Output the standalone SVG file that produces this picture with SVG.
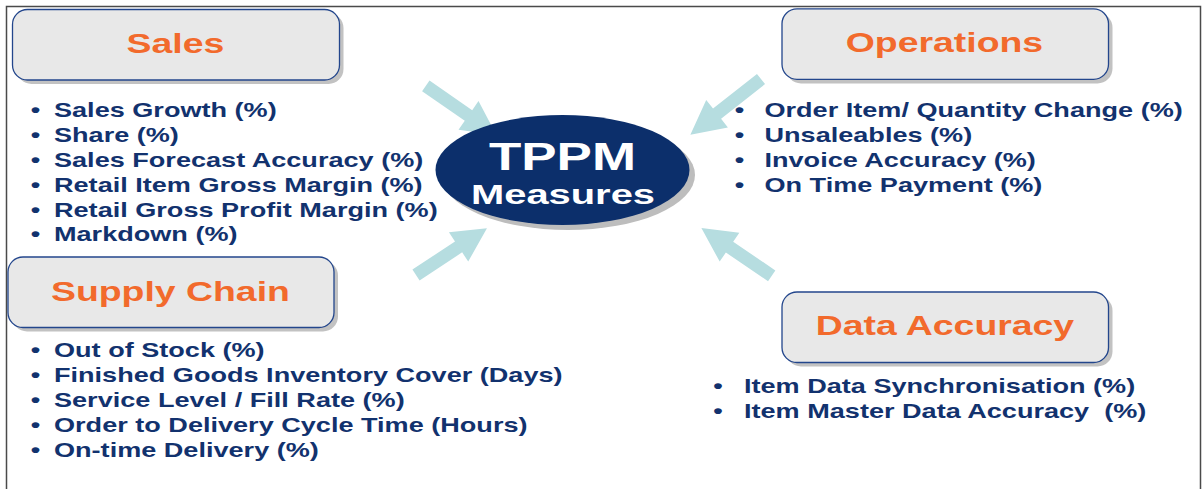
<svg xmlns="http://www.w3.org/2000/svg" width="1202" height="489" viewBox="0 0 1202 489">
<style>
.box{fill:#e8e8e8;stroke:#23468c;stroke-width:1.3}
.shadow{fill:#c2c2c2}
.head{font-family:"Liberation Sans",Arial,sans-serif;font-weight:bold;font-size:27.6px;fill:#f26a2c;text-anchor:middle}
.item{font-family:"Liberation Sans",Arial,sans-serif;font-weight:bold;font-size:20px;fill:#12326e}
.arrow{fill:#b6dde0}
.center{font-family:"Liberation Sans",Arial,sans-serif;font-weight:bold;fill:#ffffff;text-anchor:middle}
</style>
<rect x="0" y="0" width="1202" height="489" fill="#ffffff"/>
<path d="M6.5,489 V6.5 H1200.5 V489" fill="none" stroke="#4a4a4a" stroke-width="1.5"/>

<g id="connectors">
  <polygon class="arrow" transform="translate(425.8,85.8) rotate(34.8)" points="0,-6.5 52,-6.5 52,-17.5 86,0 52,17.5 52,6.5 0,6.5"/>
  <polygon class="arrow" transform="translate(761,79) rotate(141.7)" points="0,-6.5 56,-6.5 56,-17.5 90,0 56,17.5 56,6.5 0,6.5"/>
  <polygon class="arrow" transform="translate(416,275) rotate(-33.4)" points="0,-6.5 51,-6.5 51,-17.5 85,0 51,17.5 51,6.5 0,6.5"/>
  <polygon class="arrow" transform="translate(771.7,275.8) rotate(-145.8)" points="0,-6.5 51,-6.5 51,-17.5 85,0 51,17.5 51,6.5 0,6.5"/>
</g>

<g id="tppm">
  <ellipse cx="568" cy="175" rx="127" ry="55" fill="#bdbdbd"/>
  <ellipse cx="562.5" cy="170" rx="127" ry="55" fill="#0c2f6b"/>
  <text class="center" x="562.5" y="170" font-size="38" textLength="147" lengthAdjust="spacingAndGlyphs">TPPM</text>
  <text class="center" x="563" y="204" font-size="28.5" textLength="184" lengthAdjust="spacingAndGlyphs">Measures</text>
</g>

<g id="sales">
  <rect class="shadow" x="16.5" y="13" width="327" height="71" rx="15"/>
  <rect class="box" x="12.5" y="9.5" width="327" height="70.5" rx="15"/>
  <g transform="scale(1.355 1)">
    <text class="head" x="129.5" y="53.3">Sales</text>
    <text class="item" x="22.7" y="116.7">•</text>
    <text class="item" x="39.85" y="116.7">Sales Growth (%)</text>
    <text class="item" x="22.7" y="141.7">•</text>
    <text class="item" x="39.85" y="141.7">Share (%)</text>
    <text class="item" x="22.7" y="166.7">•</text>
    <text class="item" x="39.85" y="166.7">Sales Forecast Accuracy (%)</text>
    <text class="item" x="22.7" y="191.7">•</text>
    <text class="item" x="39.85" y="191.7">Retail Item Gross Margin (%)</text>
    <text class="item" x="22.7" y="216.7">•</text>
    <text class="item" x="39.85" y="216.7">Retail Gross Profit Margin (%)</text>
    <text class="item" x="22.7" y="241.2">•</text>
    <text class="item" x="39.85" y="241.2">Markdown (%)</text>
  </g>
</g>

<g id="operations">
  <rect class="shadow" x="786" y="12.5" width="326.5" height="71" rx="15"/>
  <rect class="box" x="782" y="8.8" width="326.5" height="70.5" rx="15"/>
  <g transform="scale(1.355 1)">
    <text class="head" x="697" y="52">Operations</text>
    <text class="item" x="542.3" y="116.7">•</text>
    <text class="item" x="564.2" y="116.7">Order Item/ Quantity Change (%)</text>
    <text class="item" x="542.3" y="141.7">•</text>
    <text class="item" x="564.2" y="141.7">Unsaleables (%)</text>
    <text class="item" x="542.3" y="166.7">•</text>
    <text class="item" x="564.2" y="166.7">Invoice Accuracy (%)</text>
    <text class="item" x="542.3" y="191.7">•</text>
    <text class="item" x="564.2" y="191.7">On Time Payment (%)</text>
  </g>
</g>

<g id="supply-chain">
  <rect class="shadow" x="12" y="260.5" width="326" height="71" rx="15"/>
  <rect class="box" x="8" y="257" width="326" height="70.5" rx="15"/>
  <g transform="scale(1.355 1)">
    <text class="head" x="125.8" y="300.8">Supply Chain</text>
    <text class="item" x="22.7" y="356.7">•</text>
    <text class="item" x="39.85" y="356.7">Out of Stock (%)</text>
    <text class="item" x="22.7" y="381.7">•</text>
    <text class="item" x="39.85" y="381.7">Finished Goods Inventory Cover (Days)</text>
    <text class="item" x="22.7" y="406.7">•</text>
    <text class="item" x="39.85" y="406.7">Service Level / Fill Rate (%)</text>
    <text class="item" x="22.7" y="431.7">•</text>
    <text class="item" x="39.85" y="431.7">Order to Delivery Cycle Time (Hours)</text>
    <text class="item" x="22.7" y="456.7">•</text>
    <text class="item" x="39.85" y="456.7">On-time Delivery (%)</text>
  </g>
</g>

<g id="data-accuracy">
  <rect class="shadow" x="786" y="295.5" width="326.5" height="71" rx="15"/>
  <rect class="box" x="782" y="292" width="326.5" height="70.5" rx="15"/>
  <g transform="scale(1.355 1)">
    <text class="head" x="697.4" y="335.5">Data Accuracy</text>
    <text class="item" x="526.4" y="393.3">•</text>
    <text class="item" x="549.1" y="393.3">Item Data Synchronisation (%)</text>
    <text class="item" x="526.4" y="418.3">•</text>
    <text class="item" x="549.1" y="418.3" xml:space="preserve">Item Master Data Accuracy  (%)</text>
  </g>
</g>
</svg>
